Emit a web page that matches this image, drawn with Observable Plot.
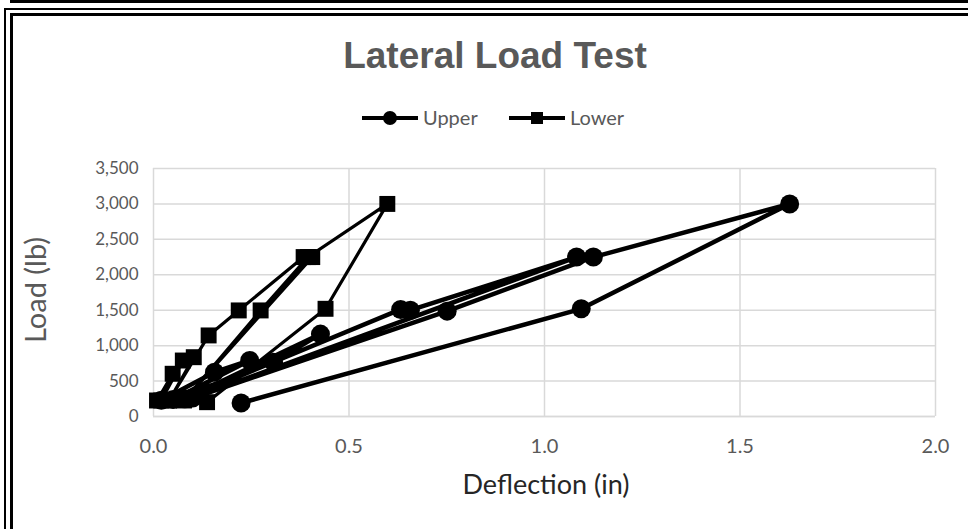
<!DOCTYPE html>
<html>
<head>
<meta charset="utf-8">
<script src="https://cdn.jsdelivr.net/npm/d3@7"></script>
<script src="https://cdn.jsdelivr.net/npm/@observablehq/plot@0.6"></script>
<style>
  html, body { margin: 0; padding: 0; background: #fff; }
  #wrap { position: relative; width: 968px; height: 529px; overflow: hidden; background: #fff; }
  #wrap > * { position: absolute; left: 0; top: 0; }
  .b { position: absolute; border-style: solid; border-color: #000; }
</style>
</head>
<body>
<div id="wrap"></div>
<script>
// ---- data ----
const upperX = [0.02, 0.156, 0.246, 0.05, 0.307, 0.427, 0.08, 0.632, 0.657, 1.082, 0.10, 0.751, 1.125, 1.627, 1.094, 0.224];
const upperY = [230, 626, 791, 240, 767, 1163, 250, 1511, 1500, 2250, 260, 1487, 2250, 3000, 1520, 190];
const lowerX = [0.009, 0.049, 0.02, 0.075, 0.103, 0.04, 0.141, 0.218, 0.384, 0.406, 0.078, 0.274, 0.395, 0.598, 0.440, 0.137];
const lowerY = [226, 603, 226, 790, 837, 226, 1144, 1497, 2250, 2250, 226, 1497, 2250, 3000, 1520, 202];
const yTicks = [0, 500, 1000, 1500, 2000, 2500, 3000, 3500];
const xTicks = [0, 0.5, 1.0, 1.5, 2.0];
const seriesNames = ["Upper", "Lower"];
const titleText = "Lateral Load Test";
const xLabel = "Deflection (in)";
const yLabel = "Load (lb)";

const upper = upperX.map((x, i) => ({x, y: upperY[i], s: seriesNames[0]}));
const lower = lowerX.map((x, i) => ({x, y: lowerY[i], s: seriesNames[1]}));

const tickFont = "Lato, 'Open Sans', sans-serif";

const chart = Plot.plot({
  width: 968,
  height: 529,
  marginLeft: 153,
  marginRight: 33,
  marginTop: 168,
  marginBottom: 113,
  style: {background: "transparent", fontFamily: tickFont},
  x: {domain: [0, 2], ticks: xTicks},
  y: {domain: [0, 3500], ticks: yTicks},
  marks: [
    Plot.gridX(xTicks, {stroke: "#d9d9d9", strokeOpacity: 1, strokeWidth: 1.5}),
    Plot.gridY(yTicks, {stroke: "#d9d9d9", strokeOpacity: 1, strokeWidth: 1.5}),
    Plot.ruleY([0], {stroke: "#d9d9d9", strokeWidth: 1.5}),
    Plot.axisY(yTicks, {tickSize: 0, tickPadding: 15, tickFormat: d3.format(","), fontSize: 17, fill: "#595959", label: null}),
    Plot.axisX(xTicks, {tickSize: 0, tickPadding: 22, tickFormat: d3.format(".1f"), fontSize: 20, fill: "#595959", label: null}),
    Plot.line(upper, {x: "x", y: "y", stroke: "#000", strokeWidth: 4.5, strokeLinejoin: "round"}),
    Plot.dot(upper, {x: "x", y: "y", symbol: "circle", r: 9.5, fill: "#000", stroke: "none"}),
    Plot.line(lower, {x: "x", y: "y", stroke: "#000", strokeWidth: 3.2, strokeLinejoin: "round"}),
    Plot.dot(lower, {x: "x", y: "y", symbol: "square", r: 9, fill: "#000", stroke: "none"})
  ]
});

const wrap = document.getElementById("wrap");

// frame borders (decorative, like the Excel cell frame)
function box(l, t, w, h, bw, sides) {
  const d = document.createElement("div");
  d.className = "b";
  d.style.left = l + "px"; d.style.top = t + "px";
  d.style.width = w + "px"; d.style.height = h + "px";
  d.style.borderWidth = sides.map(s => s ? bw + "px" : "0").join(" ");
  wrap.appendChild(d);
}
box(10, -30, 1000, 30, 3, [0, 0, 1, 1]);
box(4, 8, 1000, 600, 2, [1, 0, 0, 1]);
box(10, 13, 1000, 600, 3, [1, 0, 0, 1]);

wrap.appendChild(chart);

// overlay texts and legend
const ns = "http://www.w3.org/2000/svg";
const ov = document.createElementNS(ns, "svg");
ov.setAttribute("width", 968); ov.setAttribute("height", 529);
function t(txt, x, y, opts) {
  const e = document.createElementNS(ns, "text");
  e.textContent = txt;
  e.setAttribute("x", x); e.setAttribute("y", y);
  for (const k in opts) e.setAttribute(k, opts[k]);
  ov.appendChild(e);
  return e;
}
t(titleText, 495, 68, {"text-anchor": "middle", "font-family": "'Liberation Sans', Arial, sans-serif", "font-weight": "bold", "font-size": 37, fill: "#595959"});
t(xLabel, 546, 494, {"text-anchor": "middle", "font-family": tickFont, "font-size": 27, fill: "#262626"});
const yl = t(yLabel, 0, 0, {"text-anchor": "middle", "font-family": tickFont, "font-size": 29, fill: "#595959"});
yl.setAttribute("transform", "translate(46,290) rotate(-90)");

// legend
function legendItem(x0, name, symbol) {
  const l = document.createElementNS(ns, "line");
  l.setAttribute("x1", x0); l.setAttribute("x2", x0 + 56);
  l.setAttribute("y1", 118); l.setAttribute("y2", 118);
  l.setAttribute("stroke", "#000"); l.setAttribute("stroke-width", 4);
  ov.appendChild(l);
  let m;
  if (symbol === "circle") {
    m = document.createElementNS(ns, "circle");
    m.setAttribute("cx", x0 + 28); m.setAttribute("cy", 118); m.setAttribute("r", 7);
  } else {
    m = document.createElementNS(ns, "rect");
    m.setAttribute("x", x0 + 22); m.setAttribute("y", 112); m.setAttribute("width", 12); m.setAttribute("height", 12);
  }
  m.setAttribute("fill", "#000");
  ov.appendChild(m);
  t(name, x0 + 61, 125, {"font-family": tickFont, "font-size": 20, fill: "#595959"});
}
legendItem(362, seriesNames[0], "circle");
legendItem(509, seriesNames[1], "square");

wrap.appendChild(ov);
</script>
</body>
</html>
